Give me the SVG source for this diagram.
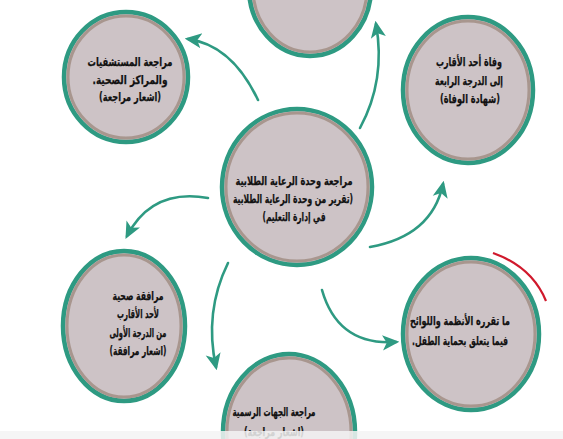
<svg xmlns="http://www.w3.org/2000/svg" width="563" height="439" viewBox="0 0 563 439">
<style>
.outer{fill:#cdc3c6;stroke:#2e9a82;stroke-width:4.5}
.inner{fill:none;stroke:#a8968e;stroke-width:3}
.t{font-family:"DejaVu Sans","Noto Sans",sans-serif;font-weight:bold;font-size:12px;fill:#111;stroke:#111;stroke-width:0.25;text-anchor:middle;direction:rtl}
.c{fill:none;stroke:#2e9a82;stroke-width:2.6;stroke-linecap:round}
</style>
<defs>
<marker id="ah" viewBox="0 0 10 10" refX="8" refY="5" markerWidth="6.5" markerHeight="6.5" orient="auto" markerUnits="strokeWidth">
<path d="M0,0.5 L10,5 L0,9.5 L2.5,5 Z" fill="#2e9a82"/>
</marker>
</defs>
<rect width="563" height="439" fill="#ffffff"/>
<g id="connectors">
<path class="c" d="M258,100 Q232,45 188,39" marker-end="url(#ah)"/>
<path class="c" d="M360,128 Q386,80 376,24" marker-end="url(#ah)"/>
<path class="c" d="M208,198 Q152,188 127,236" marker-end="url(#ah)"/>
<path class="c" d="M370,247 Q432,236 443,184" marker-end="url(#ah)"/>
<path class="c" d="M228,263 Q204,312 216,367" marker-end="url(#ah)"/>
<path class="c" d="M322,290 Q338,346 396,342" marker-end="url(#ah)"/>
</g>
<path d="M493,253 Q532,267 546,301" fill="none" stroke="#d0192c" stroke-width="2.2"/>
<g id="n-top">
<ellipse class="outer" cx="310" cy="-12" rx="61" ry="68"/>
<ellipse class="inner" cx="310" cy="-12" rx="57" ry="64"/>
</g>
<g id="n-topleft">
<ellipse class="outer" cx="126" cy="77" rx="62" ry="65"/>
<ellipse class="inner" cx="126" cy="77" rx="58" ry="61"/>
<text class="t" x="130" y="66" textLength="85" lengthAdjust="spacingAndGlyphs">مراجعة المستشفيات</text>
<text class="t" x="130" y="84" textLength="75" lengthAdjust="spacingAndGlyphs">والمراكز الصحية.</text>
<text class="t" x="130" y="101" textLength="62" lengthAdjust="spacingAndGlyphs">(اشعار مراجعة)</text>
</g>
<g id="n-topright">
<ellipse class="outer" cx="468" cy="90" rx="65" ry="73"/>
<ellipse class="inner" cx="468" cy="90" rx="61" ry="69"/>
<text class="t" x="469" y="66" textLength="66" lengthAdjust="spacingAndGlyphs">وفاة أحد الأقارب</text>
<text class="t" x="469" y="85" textLength="68" lengthAdjust="spacingAndGlyphs">إلى الدرجة الرابعة</text>
<text class="t" x="470" y="103" textLength="60" lengthAdjust="spacingAndGlyphs">(شهادة الوفاة)</text>
</g>
<g id="n-center">
<ellipse class="outer" cx="297" cy="187" rx="75" ry="78"/>
<ellipse class="inner" cx="297" cy="187" rx="71" ry="74"/>
<text class="t" x="294" y="185" textLength="117" lengthAdjust="spacingAndGlyphs">مراجعة وحدة الرعاية الطلابية</text>
<text class="t" x="293" y="203" textLength="120" lengthAdjust="spacingAndGlyphs">(تقرير من وحدة الرعاية الطلابية</text>
<text class="t" x="294" y="221" textLength="63" lengthAdjust="spacingAndGlyphs">في إدارة التعليم)</text>
</g>
<g id="n-bottomleft">
<ellipse class="outer" cx="124" cy="326" rx="61" ry="75"/>
<ellipse class="inner" cx="124" cy="326" rx="57" ry="71"/>
<text class="t" x="138" y="300" textLength="51" lengthAdjust="spacingAndGlyphs">مرافقة صحية</text>
<text class="t" x="138" y="318" textLength="42" lengthAdjust="spacingAndGlyphs">لأحد الأقارب</text>
<text class="t" x="138" y="337" textLength="57" lengthAdjust="spacingAndGlyphs">من الدرجة الأولى</text>
<text class="t" x="138" y="355" textLength="57" lengthAdjust="spacingAndGlyphs">(اشعار مرافقة)</text>
</g>
<g id="n-bottomright">
<ellipse class="outer" cx="471" cy="334" rx="68" ry="76"/>
<ellipse class="inner" cx="471" cy="334" rx="64" ry="72"/>
<text class="t" x="460" y="325" textLength="100" lengthAdjust="spacingAndGlyphs">ما تقرره الأنظمة واللوائح</text>
<text class="t" x="460" y="345" textLength="96" lengthAdjust="spacingAndGlyphs">فيما يتعلق بحماية الطفل.</text>
</g>
<g id="n-bottom">
<ellipse class="outer" cx="289" cy="432" rx="66" ry="78"/>
<ellipse class="inner" cx="289" cy="432" rx="62" ry="74"/>
<text class="t" x="274" y="416" textLength="83" lengthAdjust="spacingAndGlyphs">مراجعة الجهات الرسمية</text>
<text class="t" x="274" y="436" textLength="60" lengthAdjust="spacingAndGlyphs">(اشعار مراجعة)</text>
</g>
<rect x="0" y="431" width="563" height="8" fill="#f3f3f3" opacity="0.85"/>
</svg>
